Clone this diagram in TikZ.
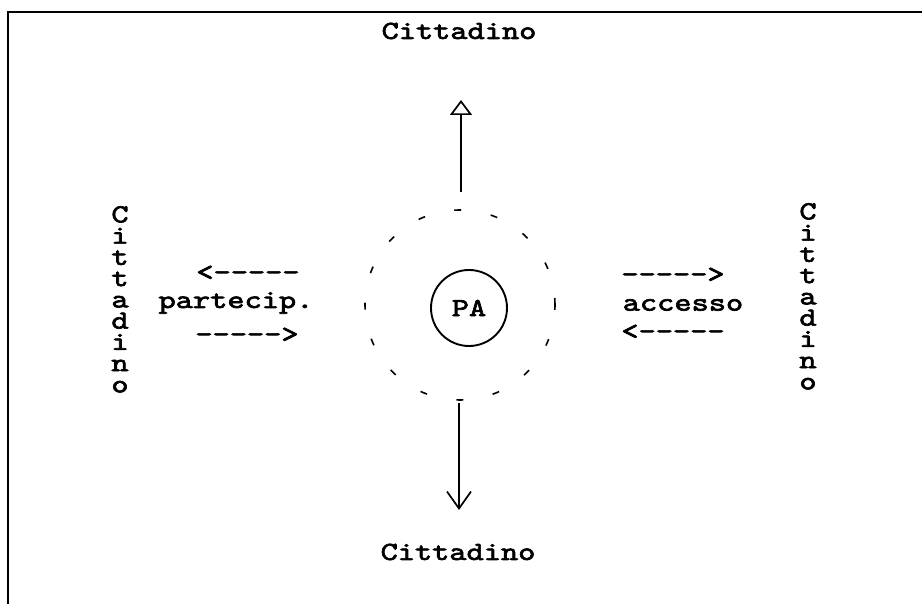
\documentclass[tikz,border=0pt]{standalone}
\usepackage{fontspec}
\newfontfamily\tw[FakeStretch=1.26, FakeBold=2.6]{lmmono10-regular.otf}
\usetikzlibrary{arrows.meta}
\begin{document}
\begin{tikzpicture}[x=1pt,y=1pt,
  txt/.style={font=\tw\fontsize{26}{21}\selectfont, inner sep=0pt},
  vtxt/.style={font=\tw\fontsize{26}{21.25}\selectfont, inner sep=0pt, align=center},
  ring/.style={circle, draw, line width=1.6pt, dash pattern=on 7pt off 30pt, minimum size=190pt, inner sep=0pt},
  pa/.style={circle, draw, line width=1.9pt, minimum size=76pt, inner sep=0pt, font=\tw\fontsize{26}{26}\selectfont},
  conn/.style={line width=1.7pt}
]
\useasboundingbox (0,0) rectangle (922,604);
\draw[line width=1.5pt] (8,0) -- (8,592) -- (922,592);

\node[txt] (top) at (459,573) {Cittadino};
\node[txt] (bot) at (458,52) {Cittadino};
\node[vtxt, anchor=north] (left) at (120,398) {C\\i\\t\\t\\a\\d\\i\\n\\o};
\node[vtxt, anchor=north] (right) at (808,401) {C\\i\\t\\t\\a\\d\\i\\n\\o};

\node[ring] (ringc) at (460,299) {};
\node[pa] (pac) at (469,296) {PA};

\coordinate (ta) at (461,412);
\coordinate (tb) at (461,504);
\coordinate (ba) at (459,201);
\coordinate (bb) at (459,94);
\draw[conn, -{Triangle[open, width=22pt, length=15pt, line width=1.7pt]}] (ta) -- (tb);
\draw[conn, -{Straight Barb[width=24pt, length=17pt, line width=1.7pt]}] (ba) -- (bb);

\node[txt] (l1) at (248,331) {<-----};
\node[txt] (l2) at (236,301) {partecip.};
\node[txt] (l3) at (247,269) {----->};
\node[txt] (r1) at (673,329) {----->};
\node[txt] (r2) at (683,299) {accesso};
\node[txt] (r3) at (673,272) {<-----};
\end{tikzpicture}
\end{document}
